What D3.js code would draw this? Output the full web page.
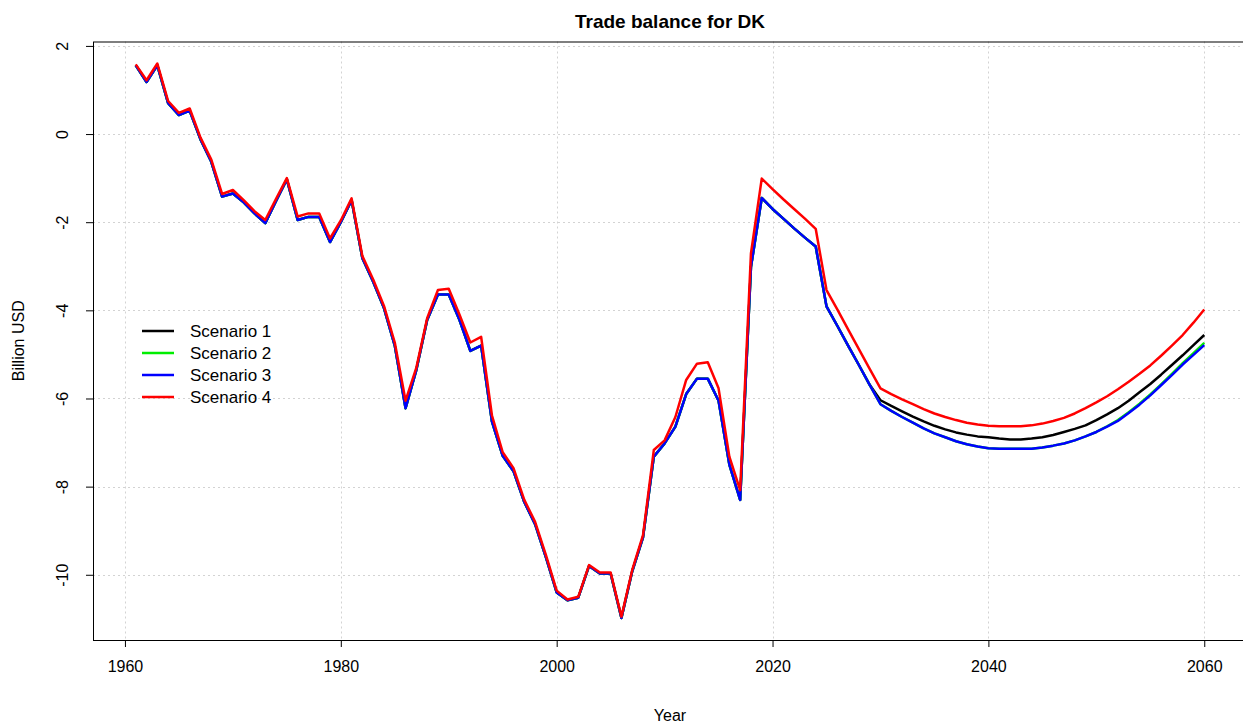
<!DOCTYPE html>
<html>
<head>
<meta charset="utf-8">
<script src="https://cdn.jsdelivr.net/npm/d3@7"></script>
<style>
  body { margin: 0; background: #fff; }
  text { font-family: "Liberation Sans", Arial, sans-serif; fill: #000; }
</style>
</head>
<body>
<svg id="chart" width="1243" height="724"></svg>
<script>
/*
*************************** DATA ***************************
*/
var histYears = d3.range(1961, 2030);
var futureYears = d3.range(2030, 2061);

// 1961-2029, shared by scenarios 1-3
var baseHist = [1.56, 1.18, 1.56, 0.70, 0.43, 0.53, -0.12, -0.63, -1.42, -1.35,
    -1.55, -1.80, -2.02, -1.52, -1.03, -1.95, -1.88, -1.88, -2.45, -2.00,
    -1.50, -2.82, -3.35, -3.95, -4.80, -6.22, -5.35, -4.22, -3.64, -3.64,
    -4.22, -4.92, -4.80, -6.52, -7.30, -7.65, -8.35, -8.85, -9.60, -10.40,
    -10.58, -10.52, -9.80, -9.97, -9.97, -10.98, -9.92, -9.15, -7.32, -7.02,
    -6.64, -5.90, -5.55, -5.55, -6.05, -7.50, -8.30, -3.02, -1.45, -1.70,
    -1.92, -2.14, -2.35, -2.55, -3.91, -4.35, -4.80, -5.24, -5.69];

// 1961-2029, scenario 4
var s4Hist = [1.58, 1.22, 1.60, 0.75, 0.48, 0.58, -0.08, -0.58, -1.36, -1.27,
    -1.50, -1.75, -1.95, -1.47, -1.00, -1.87, -1.80, -1.80, -2.37, -1.96,
    -1.46, -2.77, -3.30, -3.90, -4.73, -6.05, -5.30, -4.18, -3.54, -3.51,
    -4.10, -4.73, -4.60, -6.38, -7.22, -7.58, -8.30, -8.80, -9.55, -10.36,
    -10.56, -10.50, -9.78, -9.95, -9.95, -10.95, -9.89, -9.10, -7.17, -6.95,
    -6.42, -5.58, -5.21, -5.18, -5.77, -7.32, -8.08, -2.71, -1.01, -1.25,
    -1.48, -1.70, -1.92, -2.15, -3.54, -3.98, -4.43, -4.88, -5.33];

// 2030-2060
var s1Future = [-6.04, -6.17, -6.29, -6.41, -6.52, -6.62, -6.70, -6.77, -6.82, -6.86,
    -6.88, -6.91, -6.93, -6.93, -6.91, -6.88, -6.83, -6.76, -6.69, -6.61,
    -6.49, -6.36, -6.22, -6.05, -5.86, -5.67, -5.46, -5.24, -5.02, -4.79, -4.56];
var s2Future = [-6.13, -6.28, -6.42, -6.55, -6.68, -6.79, -6.88, -6.97, -7.04, -7.09,
    -7.13, -7.14, -7.14, -7.14, -7.14, -7.11, -7.07, -7.02, -6.95, -6.86,
    -6.76, -6.63, -6.49, -6.31, -6.12, -5.91, -5.68, -5.44, -5.20, -4.97, -4.74];
var s3Future = [-6.13, -6.28, -6.42, -6.55, -6.68, -6.79, -6.88, -6.97, -7.04, -7.09,
    -7.13, -7.14, -7.14, -7.14, -7.14, -7.11, -7.07, -7.02, -6.95, -6.86,
    -6.76, -6.64, -6.51, -6.33, -6.14, -5.93, -5.70, -5.47, -5.23, -5.01, -4.79];
var s4Future = [-5.77, -5.90, -6.02, -6.13, -6.24, -6.34, -6.42, -6.49, -6.55, -6.59,
    -6.62, -6.63, -6.63, -6.63, -6.61, -6.57, -6.51, -6.44, -6.34, -6.22,
    -6.09, -5.95, -5.79, -5.62, -5.44, -5.25, -5.03, -4.80, -4.56, -4.28, -3.98];

var seriesNames = ["Scenario 1", "Scenario 2", "Scenario 3", "Scenario 4"];
var seriesColors = ["#000000", "#00ee00", "#0000ff", "#ff0000"];
var xTicks = [1960, 1980, 2000, 2020, 2040, 2060];
var yTicks = [2, 0, -2, -4, -6, -8, -10];

var years = histYears.concat(futureYears);
var series = [
    baseHist.concat(s1Future),
    baseHist.concat(s2Future),
    baseHist.concat(s3Future),
    s4Hist.concat(s4Future)
];

/*
*************************** SETUP ***************************
*/
var svg = d3.select("#chart"),
    plotLeft = 93, plotRight = 1247, plotTop = 41.5, plotBottom = 640;

var x = d3.scaleLinear().domain([1957.04, 2063.96]).range([plotLeft, plotRight]);
var y = d3.scaleLinear().domain([-11.48, 2.10]).range([plotBottom, plotTop]);

// grid
svg.append("g").selectAll("line").data(xTicks).enter().append("line")
    .attr("x1", d => Math.round(x(d)) + 0.5).attr("x2", d => Math.round(x(d)) + 0.5)
    .attr("y1", plotTop).attr("y2", plotBottom)
    .attr("stroke", "#d3d3d3").attr("stroke-dasharray", "2,3");
svg.append("g").selectAll("line").data(yTicks).enter().append("line")
    .attr("y1", d => Math.round(y(d)) + 0.5).attr("y2", d => Math.round(y(d)) + 0.5)
    .attr("x1", plotLeft).attr("x2", plotRight)
    .attr("stroke", "#d3d3d3").attr("stroke-dasharray", "2,3");

// lines
var line = d3.line().x((d, i) => x(years[i])).y(d => y(d));
svg.append("g").selectAll("path").data(series).enter().append("path")
    .attr("d", line)
    .attr("fill", "none")
    .attr("stroke", (d, i) => seriesColors[i])
    .attr("stroke-width", 2.5)
    .attr("stroke-linejoin", "round");

// axes
var xAxis = d3.axisBottom(x).tickValues(xTicks).tickSize(7).tickPadding(14).tickFormat(d => String(d));
var gx = svg.append("g").attr("transform", "translate(0," + plotBottom + ")").call(xAxis);
gx.select(".domain").remove();
gx.selectAll("text").attr("font-size", 16).attr("font-family", "Liberation Sans, Arial, sans-serif");

// R style: plain hyphen minus
var yAxis = d3.axisLeft(y).tickValues(yTicks).tickSize(7).tickFormat(d => String(d));
var gy = svg.append("g").attr("transform", "translate(" + plotLeft + ",0)").call(yAxis);
gy.select(".domain").remove();
gy.selectAll(".tick text")
    .attr("font-size", 16).attr("font-family", "Liberation Sans, Arial, sans-serif")
    .attr("x", 0).attr("y", 0).attr("dy", "0.35em")
    .attr("text-anchor", "middle")
    .attr("transform", "translate(-31,0) rotate(-90)");

// box
svg.append("rect")
    .attr("x", plotLeft + 0.5).attr("y", plotTop + 0.5)
    .attr("width", plotRight - plotLeft).attr("height", plotBottom - plotTop)
    .attr("fill", "none").attr("stroke", "#000").attr("stroke-width", 1);

// titles
svg.append("text").attr("x", (plotLeft + plotRight) / 2).attr("y", 28)
    .attr("text-anchor", "middle").attr("font-size", 19).attr("font-weight", "bold")
    .text("Trade balance for DK");
svg.append("text").attr("x", (plotLeft + plotRight) / 2).attr("y", 721)
    .attr("text-anchor", "middle").attr("font-size", 16).text("Year");
svg.append("text").attr("transform", "translate(24," + ((plotTop + plotBottom) / 2) + ") rotate(-90)")
    .attr("text-anchor", "middle").attr("font-size", 16).text("Billion USD");

// legend
var legend = svg.append("g").selectAll("g").data(seriesNames).enter().append("g")
    .attr("transform", (d, i) => "translate(0," + (331 + i * 22) + ")");
legend.append("line").attr("x1", 142).attr("x2", 174)
    .attr("stroke", (d, i) => seriesColors[i]).attr("stroke-width", 2.5);
legend.append("text").attr("x", 190).attr("dy", "0.35em")
    .attr("font-size", 17).text(d => d);
</script>
</body>
</html>
